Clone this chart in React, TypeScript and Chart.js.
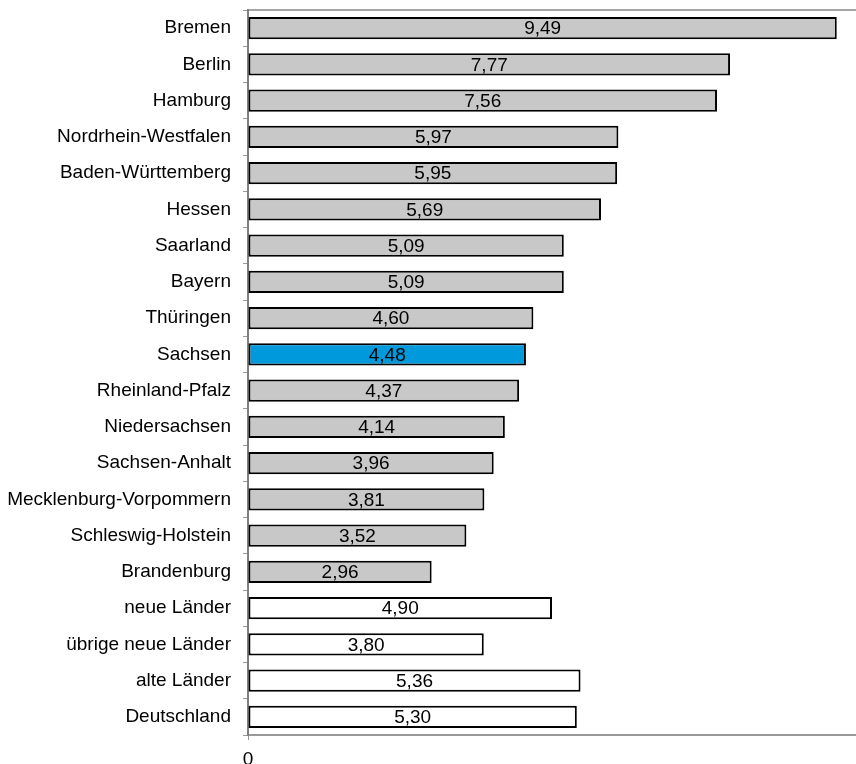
import React, { useEffect, useRef } from "react";
import { Chart, registerables } from "chart.js";

Chart.register(...registerables);

const categories = [
  "Bremen",
  "Berlin",
  "Hamburg",
  "Nordrhein-Westfalen",
  "Baden-Württemberg",
  "Hessen",
  "Saarland",
  "Bayern",
  "Thüringen",
  "Sachsen",
  "Rheinland-Pfalz",
  "Niedersachsen",
  "Sachsen-Anhalt",
  "Mecklenburg-Vorpommern",
  "Schleswig-Holstein",
  "Brandenburg",
  "neue Länder",
  "übrige neue Länder",
  "alte Länder",
  "Deutschland",
];

const values = [
  9.49, 7.77, 7.56, 5.97, 5.95, 5.69, 5.09, 5.09, 4.6, 4.48, 4.37, 4.14, 3.96,
  3.81, 3.52, 2.96, 4.9, 3.8, 5.36, 5.3,
];

const highlighted = ["Sachsen"];
const aggregates = ["neue Länder", "übrige neue Länder", "alte Länder", "Deutschland"];

const xTickValues = [0];
const xMax = 9.8;

const FONT_FAMILY = "'Liberation Sans', Arial, sans-serif";

const valueLabelPlugin = {
  id: "valueLabels",
  afterDatasetsDraw(chart: any) {
    const ctx = chart.ctx;
    const meta = chart.getDatasetMeta(0);
    ctx.save();
    ctx.font = `19px ${FONT_FAMILY}`;
    ctx.fillStyle = "#000";
    ctx.textAlign = "center";
    ctx.textBaseline = "middle";
    meta.data.forEach((bar: any, i: number) => {
      const v = values[i];
      const cx = (bar.x + bar.base) / 2;
      ctx.fillText(v.toFixed(2).replace(".", ","), cx, bar.y + 1);
    });
    ctx.restore();
  },
};

export default function App() {
  const canvasRef = useRef<HTMLCanvasElement | null>(null);

  useEffect(() => {
    if (!canvasRef.current) return;
    const colors = categories.map((c) =>
      highlighted.includes(c) ? "#0099dc" : aggregates.includes(c) ? "#ffffff" : "#c8c8c8"
    );
    const chart = new Chart(canvasRef.current, {
      type: "bar",
      data: {
        labels: categories,
        datasets: [
          {
            data: values,
            backgroundColor: colors,
            borderColor: "#000000",
            borderWidth: 2,
            borderSkipped: false,
            barPercentage: 0.62,
            categoryPercentage: 1,
          },
        ],
      },
      options: {
        indexAxis: "y",
        animation: false,
        responsive: false,
        devicePixelRatio: 1,
        layout: { padding: { top: 10, right: 0, bottom: 0, left: 0 } },
        plugins: {
          legend: { display: false },
          tooltip: { enabled: false },
        },
        scales: {
          x: {
            type: "linear",
            position: "bottom",
            min: 0,
            max: xMax,
            afterBuildTicks: (s: any) => {
              s.ticks = xTickValues.map((v) => ({ value: v }));
            },
            afterFit: (s: any) => {
              s.height = 29;
              s.paddingLeft = 0;
              s.paddingRight = 0;
            },
            grid: {
              drawOnChartArea: false,
              drawTicks: true,
              tickLength: 5,
              color: "#999999",
            },
            border: { display: true, color: "#999999", width: 2 },
            ticks: {
              color: "#000",
              padding: 8,
              font: { family: FONT_FAMILY, size: 19 },
              callback: (v: any) => String(v),
            },
          },
          xTop: {
            type: "linear",
            position: "top",
            min: 0,
            max: xMax,
            afterFit: (s: any) => {
              s.height = 0;
              s.paddingLeft = 0;
              s.paddingRight = 0;
            },
            grid: { display: false },
            border: { display: true, color: "#a6a6a6", width: 2 },
            ticks: { display: false },
          },
          y: {
            position: "left",
            afterFit: (s: any) => {
              s.width = 248;
              s.paddingTop = 0;
              s.paddingBottom = 0;
            },
            grid: {
              offset: true,
              drawOnChartArea: false,
              drawTicks: true,
              tickLength: 5,
              color: "#999999",
            },
            border: { display: true, color: "#808080", width: 2 },
            ticks: {
              color: "#000",
              padding: 12,
              font: { family: FONT_FAMILY, size: 19 },
              autoSkip: false,
            },
          },
        },
      },
      plugins: [valueLabelPlugin],
    } as any);
    return () => chart.destroy();
  }, []);

  return (
    <div style={{ position: "absolute", left: 0, top: 0, width: 856, height: 764, background: "#fff" }}>
      <canvas ref={canvasRef} width={856} height={764} />
    </div>
  );
}
